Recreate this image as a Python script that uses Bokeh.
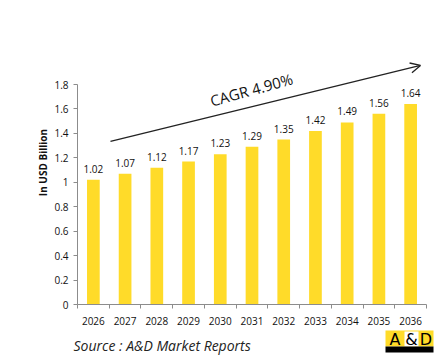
from bokeh.plotting import figure
from bokeh.layouts import column
from bokeh.models import Range1d, FixedTicker, Label, Arrow, OpenHead, ColumnDataSource
from bokeh.core.properties import value
from bokeh.embed import file_html
from bokeh.resources import INLINE

years = ["2026", "2027", "2028", "2029", "2030", "2031", "2032", "2033", "2034", "2035", "2036"]
market_size = [1.02, 1.07, 1.12, 1.17, 1.23, 1.29, 1.35, 1.42, 1.49, 1.56, 1.64]
y_ticks = [0, 0.2, 0.4, 0.6, 0.8, 1.0, 1.2, 1.4, 1.6, 1.8]
y_tick_labels = ["0", "0.2", "0.4", "0.6", "0.8", "1", "1.2", "1.4", "1.6", "1.8"]
cagr_text = "CAGR 4.90%"
y_title = "In USD Billion"
source_text = "Source : A&D Market Reports"

FONT = "Open Sans"
BAR = "#FFDB29"
AXIS = "#8c8c8c"
W = 436
H1 = 328
H2 = 30

xs = [i + 0.5 for i in range(len(years))]
src = ColumnDataSource(dict(x=xs, top=market_size, lab=[f"{v:.2f}" for v in market_size]))

p = figure(width=W, height=H1, x_range=Range1d(0, len(years)), y_range=Range1d(0, 2.324),
           output_backend="svg", toolbar_location=None,
           min_border_left=77, min_border_right=W - 426, min_border_top=20, min_border_bottom=H1 - 304)
p.outline_line_color = None
p.xgrid.visible = False
p.ygrid.visible = False
p.background_fill_color = "white"
p.border_fill_color = "white"

p.vbar(x="x", top="top", width=0.4, bottom=0, source=src, fill_color=BAR, line_color=None)
p.text(x="x", y="top", text="lab", source=src, text_align="center", text_baseline="bottom",
       y_offset=-7, text_font=value(FONT), text_font_size="10px", text_color="#111111")

# y axis
ya = p.yaxis[0]
ya.ticker = FixedTicker(ticks=y_ticks)
ya.major_label_overrides = {t: l for t, l in zip(y_ticks, y_tick_labels)}
ya.bounds = (0, 1.8)
ya.axis_line_color = AXIS
ya.major_tick_line_color = AXIS
ya.major_tick_out = 4
ya.major_tick_in = 0
ya.minor_tick_out = 0
ya.minor_tick_in = 0
ya.major_label_standoff = 5
ya.major_label_text_font = FONT
ya.major_label_text_font_size = "10px"
ya.major_label_text_color = "#111111"
ya.axis_label = y_title
ya.axis_label_text_font = FONT
ya.axis_label_text_font_size = "10px"
ya.axis_label_text_font_style = "bold"
ya.axis_label_text_color = "#111111"
ya.axis_label_standoff = 1

# x axis
xa = p.xaxis[0]
xa.ticker = FixedTicker(ticks=xs, minor_ticks=list(range(len(years) + 1)))
xa.major_label_overrides = {x: y for x, y in zip(xs, years)}
xa.axis_line_color = AXIS
xa.major_tick_out = 0
xa.major_tick_in = 0
xa.minor_tick_line_color = AXIS
xa.minor_tick_out = 4
xa.minor_tick_in = 0
xa.major_label_standoff = 8
xa.major_label_text_font = FONT
xa.major_label_text_font_size = "10px"
xa.major_label_text_color = "#111111"

# CAGR arrow
p.add_layout(Arrow(x_start=1.04, y_start=1.334, x_end=10.81, y_end=1.956,
                   line_color="#222222", line_width=1.3,
                   end=OpenHead(size=10, line_color="#222222", line_width=1.3)))
p.add_layout(Label(x=5.48, y=1.759, text=cagr_text, angle=0.27, text_align="center",
                   text_baseline="middle", text_font=FONT, text_font_size="15px",
                   text_color="#111111"))

# footer strip: source note and logo (pixel-like coordinates, y downward)
f = figure(width=W, height=H2, x_range=Range1d(0, W), y_range=Range1d(H2, 0),
           output_backend="svg", toolbar_location=None, x_axis_location=None, y_axis_location=None,
           min_border=0)
f.outline_line_color = None
f.xgrid.visible = False
f.ygrid.visible = False
f.background_fill_color = "white"
f.border_fill_color = "white"
for fig in (p, f):
    try:
        fig.frame_align = False
    except Exception:
        pass

f.add_layout(Label(x=73, y=17, text=source_text, text_font=FONT, text_font_style="italic",
                   text_font_size="14px", text_color="#222222", text_baseline="alphabetic"))

f.quad(left=[385, 404, 385], right=[433, 418, 433], top=[2, 3, 18], bottom=[18, 18, 24],
       fill_color=[BAR, "white", "black"], line_color=None)
f.text(x=[394.5, 411, 425.5], y=[10.5, 10.5, 10.5], text=["A", "&", "D"], text_align="center",
       text_baseline="middle", text_font=value("DejaVu Sans"), text_font_size="16px",
       text_color="black")

open("out.html", "w").write(file_html(column(p, f), INLINE))
